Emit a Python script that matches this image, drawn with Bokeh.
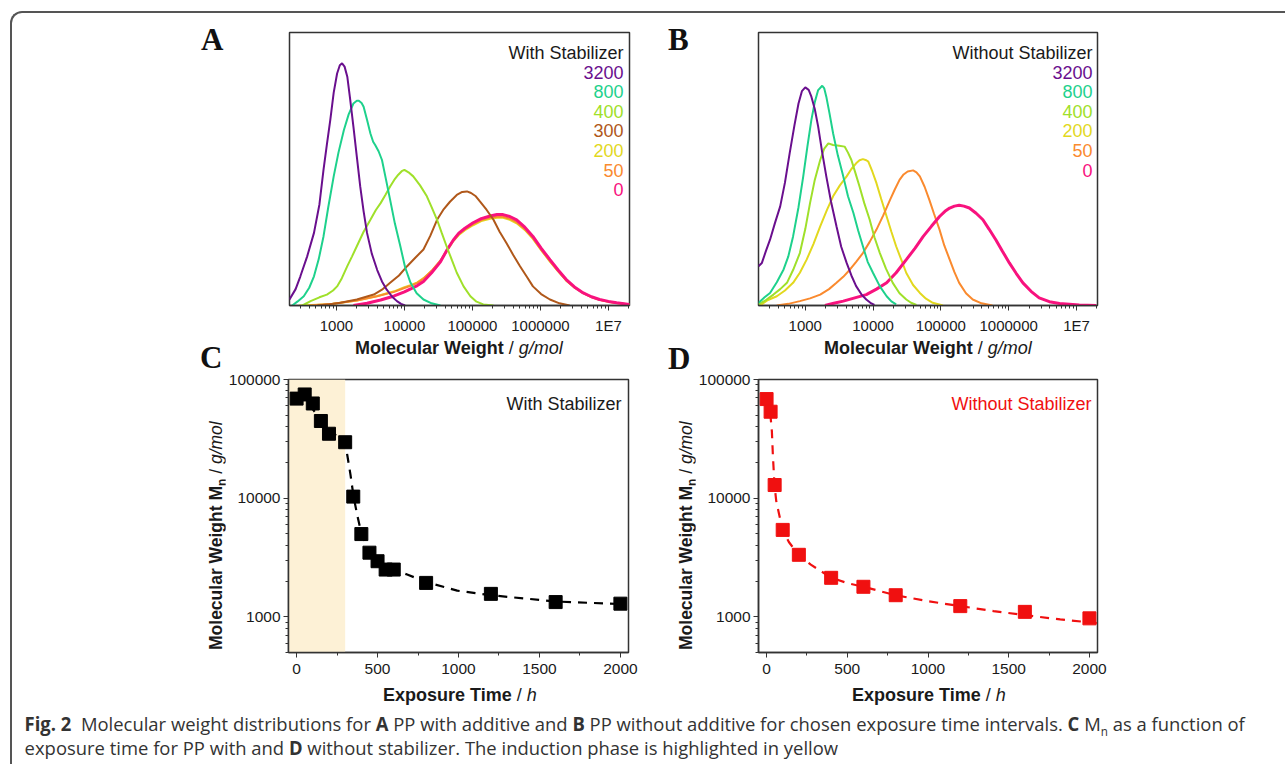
from bokeh.plotting import figure
from bokeh.models import (Range1d, FixedTicker, NumeralTickFormatter, Label,
                          BoxAnnotation, Div, Spacer)
from bokeh.layouts import column, row
from bokeh.embed import file_html
from bokeh.resources import INLINE

FONT = "Liberation Sans"
SERIF = "Liberation Serif"

# ---------------- Panel A : with stabilizer (log10 M, relative height) ----------------
A_times = ["3200", "800", "400", "300", "200", "50", "0"]
A3200_logM = [2.31, 2.40, 2.47, 2.57, 2.67, 2.75, 2.81, 2.86, 2.91, 2.96, 3.01, 3.05, 3.083, 3.12, 3.16,
              3.20, 3.25, 3.30, 3.35, 3.40, 3.45, 3.52, 3.60, 3.67, 3.74, 3.82, 3.89, 3.95, 4.01]
A3200_h = [0.022, 0.06, 0.107, 0.18, 0.266, 0.37, 0.497, 0.59, 0.68, 0.78, 0.85, 0.88, 0.887, 0.875, 0.838,
           0.76, 0.655, 0.545, 0.436, 0.345, 0.266, 0.19, 0.13, 0.088, 0.058, 0.032, 0.016, 0.006, 0.0]
A800_logM = [2.35, 2.43, 2.52, 2.60, 2.67, 2.74, 2.81, 2.88, 2.96, 3.03, 3.11, 3.18, 3.25, 3.30, 3.33, 3.37,
             3.40, 3.45, 3.50, 3.54, 3.57, 3.62, 3.67, 3.73, 3.79, 3.86, 3.94, 4.01, 4.09, 4.18, 4.28, 4.40, 4.53]
A800_h = [0.0, 0.015, 0.034, 0.065, 0.107, 0.17, 0.253, 0.36, 0.473, 0.56, 0.643, 0.70, 0.74, 0.75, 0.75, 0.742,
          0.728, 0.68, 0.63, 0.60, 0.588, 0.565, 0.533, 0.46, 0.387, 0.30, 0.217, 0.14, 0.083, 0.045, 0.022, 0.008, 0.0]
A400_logM = [2.50, 2.62, 2.75, 2.86, 2.95, 3.01, 3.08, 3.16, 3.23, 3.30, 3.40, 3.50, 3.58, 3.65, 3.72, 3.79,
             3.85, 3.91, 3.96, 4.0, 4.06, 4.13, 4.23, 4.33, 4.40, 4.48, 4.55, 4.62, 4.70, 4.77, 4.87, 4.97,
             5.06, 5.16, 5.31]
A400_h = [0.0, 0.016, 0.03, 0.04, 0.055, 0.07, 0.10, 0.144, 0.18, 0.217, 0.27, 0.314, 0.35, 0.375, 0.405, 0.436,
          0.46, 0.479, 0.492, 0.497, 0.488, 0.473, 0.44, 0.40, 0.36, 0.314, 0.265, 0.217, 0.165, 0.12, 0.07, 0.034,
          0.014, 0.004, 0.0]
A300_logM = [2.72, 2.90, 3.06, 3.30, 3.55, 3.67, 3.79, 3.92, 4.04, 4.16, 4.28, 4.38, 4.48, 4.57, 4.67, 4.77,
             4.85, 4.92, 4.98, 5.05, 5.11, 5.21, 5.31, 5.40, 5.50, 5.60, 5.70, 5.80, 5.89, 6.01, 6.14, 6.28, 6.43]
A300_h = [0.0, 0.005, 0.01, 0.022, 0.04, 0.058, 0.083, 0.11, 0.144, 0.175, 0.205, 0.255, 0.314, 0.35, 0.38, 0.405,
          0.416, 0.418, 0.412, 0.40, 0.381, 0.35, 0.314, 0.27, 0.229, 0.185, 0.144, 0.105, 0.07, 0.042, 0.022,
          0.008, 0.0]
A200_logM = [2.45, 2.90, 3.30, 3.60, 3.85, 3.99, 4.10, 4.19, 4.28, 4.40, 4.53, 4.63, 4.72, 4.80, 4.89, 5.01,
             5.13, 5.26, 5.36, 5.45, 5.55, 5.65, 5.77, 5.89, 6.01, 6.14, 6.26, 6.38, 6.50, 6.63, 6.75, 6.87,
             7.0, 7.12, 7.31]
A200_h = [0.0, 0.005, 0.018, 0.035, 0.052, 0.066, 0.075, 0.085, 0.10, 0.126, 0.163, 0.202, 0.236, 0.258, 0.276,
          0.294, 0.309, 0.318, 0.321, 0.321, 0.314, 0.301, 0.277, 0.244, 0.203, 0.161, 0.125, 0.091, 0.066,
          0.045, 0.031, 0.021, 0.014, 0.009, 0.004]
A50_logM = [2.60, 2.95, 3.30, 3.60, 3.85, 3.99, 4.10, 4.19, 4.28, 4.40, 4.53, 4.63, 4.72, 4.80, 4.89, 5.01,
            5.13, 5.26, 5.36, 5.45, 5.55, 5.65, 5.77, 5.89, 6.01, 6.14, 6.26, 6.38, 6.50, 6.63, 6.75, 6.87,
            7.0, 7.12, 7.31]
A50_h = [0.0, 0.006, 0.018, 0.034, 0.05, 0.063, 0.073, 0.083, 0.098, 0.127, 0.165, 0.205, 0.24, 0.262, 0.28,
         0.298, 0.313, 0.322, 0.325, 0.325, 0.318, 0.305, 0.28, 0.247, 0.205, 0.163, 0.126, 0.092, 0.066, 0.045,
         0.031, 0.021, 0.014, 0.009, 0.004]
A0_logM = [3.25, 3.45, 3.65, 3.85, 4.0, 4.10, 4.19, 4.28, 4.40, 4.53, 4.63, 4.72, 4.80, 4.89, 5.01, 5.13,
           5.26, 5.36, 5.45, 5.55, 5.65, 5.77, 5.89, 6.01, 6.14, 6.26, 6.38, 6.50, 6.63, 6.75, 6.87, 7.0, 7.12, 7.31]
A0_h = [0.0, 0.008, 0.02, 0.035, 0.05, 0.062, 0.073, 0.088, 0.12, 0.16, 0.205, 0.24, 0.265, 0.283, 0.303, 0.318,
        0.328, 0.333, 0.333, 0.326, 0.314, 0.287, 0.253, 0.21, 0.168, 0.13, 0.095, 0.068, 0.046, 0.032, 0.022,
        0.015, 0.01, 0.004]

# ---------------- Panel B : without stabilizer ----------------
B_times = ["3200", "800", "400", "200", "50", "0"]
B3200_logM = [2.31, 2.36, 2.42, 2.48, 2.55, 2.63, 2.70, 2.77, 2.84, 2.90, 2.95, 3.0, 3.05, 3.09, 3.14, 3.19,
              3.25, 3.31, 3.38, 3.46, 3.53, 3.61, 3.68, 3.75, 3.83, 3.90, 3.96, 4.02]
B3200_h = [0.144, 0.156, 0.2, 0.241, 0.30, 0.363, 0.45, 0.558, 0.66, 0.74, 0.785, 0.799, 0.79, 0.765, 0.72, 0.655,
           0.56, 0.473, 0.38, 0.29, 0.215, 0.156, 0.11, 0.071, 0.04, 0.022, 0.01, 0.002]
B800_logM = [2.31, 2.40, 2.48, 2.58, 2.68, 2.75, 2.82, 2.90, 2.97, 3.03, 3.09, 3.14, 3.19, 3.25, 3.28, 3.31,
             3.36, 3.41, 3.48, 3.56, 3.63, 3.71, 3.78, 3.85, 3.92, 4.0, 4.10, 4.20, 4.27, 4.34]
B800_h = [0.01, 0.03, 0.046, 0.085, 0.132, 0.18, 0.253, 0.36, 0.473, 0.58, 0.68, 0.745, 0.789, 0.805, 0.795, 0.765,
          0.70, 0.631, 0.55, 0.473, 0.40, 0.339, 0.275, 0.217, 0.16, 0.119, 0.07, 0.034, 0.015, 0.004]
B400_logM = [2.31, 2.42, 2.53, 2.63, 2.73, 2.82, 2.92, 3.0, 3.07, 3.14, 3.22, 3.28, 3.34, 3.41, 3.50, 3.58,
             3.63, 3.68, 3.74, 3.80, 3.87, 3.95, 4.02, 4.10, 4.19, 4.29, 4.39, 4.49, 4.56, 4.64]
B400_h = [0.004, 0.02, 0.04, 0.06, 0.083, 0.13, 0.192, 0.28, 0.375, 0.46, 0.533, 0.575, 0.594, 0.588, 0.585, 0.582,
          0.56, 0.533, 0.485, 0.436, 0.375, 0.314, 0.25, 0.192, 0.135, 0.083, 0.045, 0.022, 0.01, 0.002]
B200_logM = [2.33, 2.45, 2.58, 2.70, 2.82, 2.92, 3.02, 3.12, 3.22, 3.32, 3.41, 3.51, 3.61, 3.68, 3.75, 3.80,
             3.85, 3.90, 3.93, 3.99, 4.05, 4.12, 4.20, 4.27, 4.34, 4.42, 4.49, 4.59, 4.69, 4.78, 4.88, 5.03]
B200_h = [0.0, 0.02, 0.034, 0.055, 0.083, 0.12, 0.168, 0.225, 0.29, 0.35, 0.40, 0.44, 0.473, 0.50, 0.521, 0.532,
          0.536, 0.532, 0.527, 0.49, 0.448, 0.39, 0.326, 0.27, 0.217, 0.165, 0.119, 0.075, 0.046, 0.025, 0.01, 0.0]
B50_logM = [2.58, 2.75, 2.92, 3.07, 3.22, 3.35, 3.46, 3.56, 3.66, 3.75, 3.85, 3.95, 4.05, 4.15, 4.25, 4.32,
            4.39, 4.45, 4.51, 4.59, 4.64, 4.69, 4.76, 4.83, 4.90, 4.98, 5.05, 5.13, 5.20, 5.27, 5.37, 5.47, 5.60, 5.76]
B50_h = [0.0, 0.006, 0.016, 0.026, 0.04, 0.06, 0.083, 0.105, 0.132, 0.16, 0.192, 0.233, 0.278, 0.33, 0.387, 0.425,
         0.46, 0.48, 0.491, 0.495, 0.488, 0.473, 0.435, 0.387, 0.335, 0.278, 0.22, 0.168, 0.122, 0.083, 0.045,
         0.022, 0.008, 0.0]
B0_logM = [3.29, 3.42, 3.56, 3.73, 3.90, 4.05, 4.20, 4.34, 4.49, 4.62, 4.74, 4.86, 4.98, 5.06, 5.13, 5.20, 5.27,
           5.34, 5.42, 5.52, 5.62, 5.71, 5.81, 5.91, 6.01, 6.11, 6.21, 6.33, 6.45, 6.60, 6.75, 7.04, 7.29]
B0_h = [0.0, 0.008, 0.016, 0.028, 0.04, 0.06, 0.083, 0.12, 0.168, 0.21, 0.253, 0.29, 0.326, 0.345, 0.357, 0.364,
        0.367, 0.364, 0.357, 0.338, 0.314, 0.28, 0.241, 0.198, 0.156, 0.118, 0.083, 0.052, 0.028, 0.014, 0.007,
        0.002, 0.0]

# ---------------- Panel C / D : Mn vs exposure time ----------------
C_time = [0, 50, 100, 150, 200, 300, 350, 400, 450, 500, 550, 600, 800, 1200, 1600, 2000]
C_Mn = [69000, 74800, 62800, 44700, 34900, 29600, 10300, 4980, 3470, 2940, 2500, 2500, 1930, 1560, 1330, 1290]
C_fit_time = [0, 66, 158, 251, 298, 313, 333, 352, 374, 401, 457, 498, 580, 683, 798, 992, 1200, 1601, 2000]
C_fit_Mn = [73800, 64900, 44000, 33000, 29600, 23100, 15700, 10300, 7250, 4980, 3450, 2940, 2550, 2270, 1970,
            1660, 1520, 1345, 1280]
induction_end = 300

D_time = [0, 25, 50, 100, 200, 400, 600, 800, 1200, 1600, 2000]
D_Mn = [68400, 53500, 12900, 5400, 3330, 2130, 1790, 1520, 1230, 1100, 970]
D_fit_time = [23, 33, 39, 49, 60, 78, 99, 138, 198, 274, 400, 501, 600, 800, 996, 1200, 1406, 1598, 1819, 2047]
D_fit_Mn = [51800, 36300, 23100, 12900, 9440, 7280, 5400, 4270, 3330, 2750, 2140, 1920, 1790, 1520, 1355, 1230,
            1117, 1033, 950, 885]

COL = {"3200": "#6a0f8e", "800": "#1ed18c", "400": "#9fe02a", "300": "#b0581a",
       "200": "#e2d81e", "50": "#fa8a2e", "0": "#f8127e"}

A_curves = {"3200": (A3200_logM, A3200_h), "800": (A800_logM, A800_h), "400": (A400_logM, A400_h),
            "300": (A300_logM, A300_h), "200": (A200_logM, A200_h), "50": (A50_logM, A50_h),
            "0": (A0_logM, A0_h)}
B_curves = {"3200": (B3200_logM, B3200_h), "800": (B800_logM, B800_h), "400": (B400_logM, B400_h),
            "200": (B200_logM, B200_h), "50": (B50_logM, B50_h), "0": (B0_logM, B0_h)}

AXIS_COL = "#333333"
TEXT_COL = "#1a1a1a"


def lab(p, x, y, text, size="18px", style="normal", color=TEXT_COL, align="left"):
    p.add_layout(Label(x=x, y=y, x_units="screen", y_units="screen", text=text,
                       text_font=FONT, text_font_size=size, text_font_style=style,
                       text_color=color, text_align=align, text_baseline="alphabetic"))


def base_fig(width, height, left, right, top, bottom, **kw):
    p = figure(width=width, height=height, min_border_left=left, min_border_right=right,
               min_border_top=top, min_border_bottom=bottom, toolbar_location=None,
               output_backend="svg", background_fill_color="white", border_fill_color="white", **kw)
    p.xgrid.visible = False
    p.ygrid.visible = False
    p.outline_line_color = AXIS_COL
    p.outline_line_width = 1.5
    for ax in (p.xaxis + p.yaxis):
        ax.axis_line_color = AXIS_COL
        ax.axis_line_width = 1.5
        ax.major_tick_line_color = AXIS_COL
        ax.minor_tick_line_color = AXIS_COL
        ax.major_tick_in = 0
        ax.minor_tick_in = 0
        ax.major_tick_out = 5
        ax.minor_tick_out = 3
        ax.major_label_text_font = FONT
        ax.major_label_text_font_size = "15px"
        ax.major_label_text_color = TEXT_COL
    return p


def dist_panel(curves, order, title, left, right):
    p = base_fig(390, 323, left, right, 19, 30, x_axis_type="log",
                 x_range=Range1d(10 ** 2.31, 10 ** 7.31), y_range=Range1d(0, 1))
    p.yaxis.visible = False
    major = [1e3, 1e4, 1e5, 1e6, 1e7]
    minor = [m * k for m in [100, 1e3, 1e4, 1e5, 1e6, 1e7] for k in range(2, 10)]
    p.xaxis.ticker = FixedTicker(ticks=major, minor_ticks=minor)
    p.xaxis.formatter = NumeralTickFormatter(format="0")
    p.xaxis.major_label_overrides = {10000000: "1E7"}
    p.xaxis.major_label_standoff = 6
    for key in ["200", "50", "0", "300", "400", "800", "3200"]:
        if key not in curves:
            continue
        lg, h = curves[key]
        p.line([10 ** v for v in lg], h, line_color=COL[key], line_width=3 if key == "0" else 2)
    lab(p, 334, 253, title, align="right")
    for i, key in enumerate(order):
        lab(p, 334, 253 - 19.6 * (i + 1), key, color=COL[key], align="right")
    return p


def mn_panel(t, mn, ft, fmn, color, title, shade, left, right):
    p = base_fig(435, 312, left, right, 9, 30, y_axis_type="log",
                 x_range=Range1d(-50, 2050), y_range=Range1d(500, 100000))
    p.xaxis.ticker = FixedTicker(ticks=[0, 500, 1000, 1500, 2000], minor_ticks=[250, 750, 1250, 1750])
    p.yaxis.ticker = FixedTicker(ticks=[1000, 10000, 100000],
                                 minor_ticks=[m * k for m in [100, 1000, 10000] for k in range(2, 10)])
    p.yaxis.formatter = NumeralTickFormatter(format="0")
    p.xaxis.major_label_standoff = 6
    p.yaxis.major_label_standoff = 3
    p.yaxis.major_label_text_font_size = "15.5px"
    p.xaxis.major_label_text_font_size = "15.5px"
    if shade is not None:
        p.add_layout(BoxAnnotation(right=shade, fill_color="#fdf1d6", fill_alpha=1.0,
                                   line_alpha=0, level="underlay"))
    p.line(ft, fmn, line_color=color, line_width=2.2, line_dash="9 7")
    p.scatter(t, mn, marker="square", size=13, fill_color=color, line_color=color)
    lab(p, 333, 249, title, color=color if color != "black" else TEXT_COL, align="right")
    return p


pA = dist_panel(A_curves, A_times, "With Stabilizer", 19, 31)
pB = dist_panel(B_curves, B_times, "Without Stabilizer", 18, 33)
pC = mn_panel(C_time, C_Mn, C_fit_time, C_fit_Mn, "black", "With Stabilizer", induction_end, 63, 32)
pD = mn_panel(D_time, D_Mn, D_fit_time, D_fit_Mn, "#f01010", "Without Stabilizer", None, 62, 33)

SANS_CSS = "font-family:'Liberation Sans';color:#1a1a1a;white-space:nowrap;"


def mkdiv(html, w, h):
    return Div(text=html, width=w, height=h, margin=(0, 0, 0, 0))


def letter_div(ch, w, h, pad_l, pad_t):
    html = (f'<div style="font-family:\'Liberation Serif\';font-weight:bold;font-size:31px;'
            f'line-height:31px;color:#111;padding-left:{pad_l}px;padding-top:{pad_t}px">{ch}</div>')
    return mkdiv(html, w, h)


def xlabel_div(main, unit, w, h, pad_l, pad_t):
    html = (f'<div style="{SANS_CSS}font-size:18px;line-height:18px;padding-left:{pad_l}px;'
            f'padding-top:{pad_t}px"><b>{main}</b> / <i>{unit}</i></div>')
    return mkdiv(html, w, h)


def ylabel_div(w, h, tx, ty):
    html = (f'<div style="{SANS_CSS}font-size:17.5px;line-height:18px;width:260px;'
            f'transform:translate({tx}px,{ty}px) rotate(-90deg);transform-origin:0 0">'
            '<b>Molecular Weight M<sub style="font-size:12px;line-height:0">n</sub></b> / <i>g/mol</i></div>')
    return mkdiv(html, w, h)


caption_html = (
    '<div style="font-family:\'Open Sans\';font-size:19px;color:#333;line-height:24px;'
    'padding-left:13px;white-space:nowrap;transform:scaleX(0.97);transform-origin:0 0">'
    '<b>Fig. 2</b>&nbsp; Molecular weight distributions for <b>A</b> PP with additive and <b>B</b> PP '
    'without additive for chosen exposure time intervals. <b>C</b> M<sub style="font-size:12px;line-height:0">n</sub> '
    'as a function of<br>exposure time for PP with and <b>D</b> without stabilizer. '
    'The induction phase is highlighted in yellow</div>'
)
caption = mkdiv(caption_html, 1273, 52)

TRAIL = 155
row1 = row(Spacer(width=178, height=323), letter_div("A", 80, 323, 11, 11), pA,
           letter_div("B", 80, 323, 8, 11), pB, Spacer(width=TRAIL, height=323))
row2 = row(Spacer(width=178, height=34), letter_div("C", 150, 34, 10, 6),
           xlabel_div("Molecular Weight", "g/mol", 320, 34, 15, 3),
           letter_div("D", 150, 34, 8, 7),
           xlabel_div("Molecular Weight", "g/mol", 320, 34, 14, 3), Spacer(width=TRAIL, height=34))
row3 = row(Spacer(width=178, height=312), ylabel_div(35, 312, 16.8, 280), pC,
           ylabel_div(35, 312, 16.8, 280), pD, Spacer(width=TRAIL, height=312))
row4 = row(Spacer(width=178, height=30), xlabel_div("Exposure Time", "h", 470, 30, 193, 4),
           xlabel_div("Exposure Time", "h", 470, 30, 192, 4), Spacer(width=TRAIL, height=30))

layout = column(row1, row2, row3, row4, caption,
                styles={"border-left": "2px solid #555555", "border-top": "2px solid #555555",
                        "border-top-left-radius": "12px", "margin-left": "10px", "margin-top": "11px"})

open("out.html", "w").write(file_html(layout, INLINE))
